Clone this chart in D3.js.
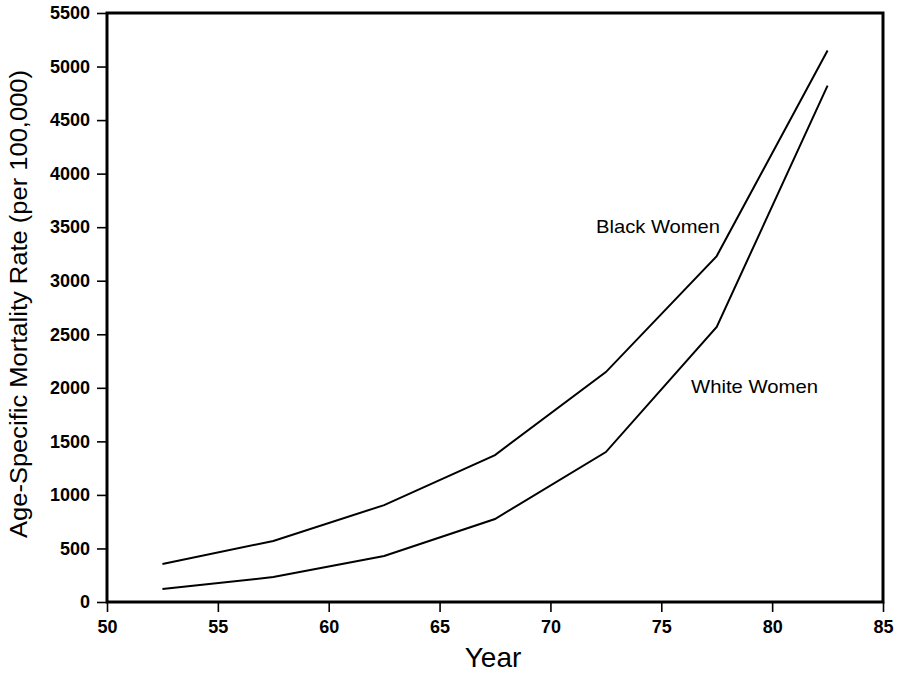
<!DOCTYPE html>
<html><head><meta charset="utf-8">
<script src="https://cdn.jsdelivr.net/npm/d3@7"></script>
<style>body{margin:0;background:#fff}svg{display:block}text{font-family:"Liberation Sans",Arial,sans-serif;fill:#000}</style>
</head><body><svg id="c" width="899" height="673"></svg>
<script>
const years = [52.5, 57.5, 62.5, 67.5, 72.5, 77.5, 82.5];
const blackWomen = [355, 570, 905, 1372, 2147, 3230, 5150];
const whiteWomen = [121, 233, 430, 775, 1400, 2568, 4822];
const xTicks = [50, 55, 60, 65, 70, 75, 80, 85];
const yTicks = [0, 500, 1000, 1500, 2000, 2500, 3000, 3500, 4000, 4500, 5000, 5500];

const svg = d3.select("#c");
const L = 107, R = 883, T = 13, B = 602;
const x = d3.scaleLinear().domain([50, 85]).range([L, R]);
const y = d3.scaleLinear().domain([0, 5500]).range([B, T]);

const gx = svg.append("g").attr("transform", `translate(0,${B})`)
  .call(d3.axisBottom(x).tickValues(xTicks).tickSize(10).tickPadding(8).tickFormat(d3.format("d")));
const gy = svg.append("g").attr("transform", `translate(${L},0)`)
  .call(d3.axisLeft(y).tickValues(yTicks).tickSize(10).tickPadding(7).tickFormat(d3.format("d")));
[gx, gy].forEach(g => {
  g.attr("font-size", null).attr("font-family", null);
  g.select(".domain").remove();
  g.selectAll(".tick line").attr("stroke", "#000").attr("stroke-width", 1.6);
  g.selectAll(".tick text").style("font-size", "18px").style("font-weight", "bold").attr("fill", "#000");
});
svg.append("rect").attr("x", L).attr("y", T).attr("width", R - L).attr("height", B - T)
  .attr("fill", "none").attr("stroke", "#000").attr("stroke-width", 3);

const line = d3.line().x((d, i) => x(years[i])).y(d => y(d));
[blackWomen, whiteWomen].forEach(s => {
  svg.append("path").datum(s).attr("d", line).attr("fill", "none")
    .attr("stroke", "#000").attr("stroke-width", 2);
});

svg.append("text").attr("x", 596).attr("y", 233).attr("font-size", 19)
  .attr("textLength", 124).attr("lengthAdjust", "spacingAndGlyphs").text("Black Women");
svg.append("text").attr("x", 691).attr("y", 393).attr("font-size", 19)
  .attr("textLength", 127).attr("lengthAdjust", "spacingAndGlyphs").text("White Women");

svg.append("text").attr("x", 493).attr("y", 667).attr("text-anchor", "middle")
  .attr("font-size", 28).text("Year");
svg.append("text").attr("transform", `translate(27,304) rotate(-90)`)
  .attr("text-anchor", "middle").attr("font-size", 23)
  .attr("textLength", 468).attr("lengthAdjust", "spacingAndGlyphs")
  .text("Age-Specific Mortality Rate (per 100,000)");
</script></body></html>
